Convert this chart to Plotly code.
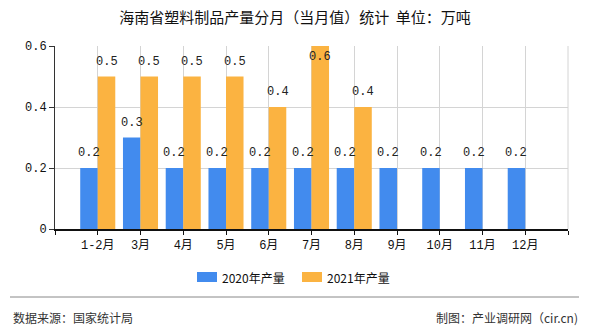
import plotly.graph_objects as go

categories = ["1-2月", "3月", "4月", "5月", "6月", "7月", "8月", "9月", "10月", "11月", "12月"]
values_2020 = [0.2, 0.3, 0.2, 0.2, 0.2, 0.2, 0.2, 0.2, 0.2, 0.2, 0.2]
values_2021 = [0.5, 0.5, 0.5, 0.5, 0.4, 0.6, 0.4, None, None, None, None]
series_names = ["2020年产量", "2021年产量"]
colors = ["#428BEE", "#FBB341"]
title_text = "海南省塑料制品产量分月（当月值）统计  单位：万吨"
source_text = "数据来源：国家统计局"
credit_text = "制图：产业调研网（cir.cn)"

W, H = 590, 330
L, R, T, B = 55, 568, 46, 229
PW, PH = R - L, B - T

def px(x):
    return (x - L) / PW

def py(y):
    return (B - y) / PH

xs = list(range(len(categories)))
mono = "Liberation Mono, Noto Sans CJK SC"
cjk = "Noto Sans CJK SC, Noto Sans, sans-serif"

fig = go.Figure()
for name, vals, col in zip(series_names, [values_2020, values_2021], colors):
    fig.add_trace(go.Bar(x=xs, y=vals, name=name, marker=dict(color=col, line=dict(width=0)),
                         showlegend=False))

annotations = []
bw = 0.41
for k, vals in enumerate([values_2020, values_2021]):
    off = -bw / 2 if k == 0 else bw / 2
    for i, v in enumerate(vals):
        if v is None:
            continue
        if v >= 0.6:
            yshift, anchor = -2, "top"
        else:
            yshift, anchor = 6, "bottom"
        annotations.append(dict(x=i + off, y=v, xref="x", yref="y", text=f"{v:.1f}",
                                showarrow=False, yanchor=anchor, yshift=yshift,
                                font=dict(family=mono, size=12, color="#222")))

# legend (manual)
shapes = []
leg = [(197, 217, 220), (302, 322, 325)]
for (x0, x1, tx), name, col in zip(leg, series_names, colors):
    shapes.append(dict(type="rect", xref="paper", yref="paper", x0=px(x0), x1=px(x1),
                       y0=py(282), y1=py(272), fillcolor=col, line=dict(width=0)))
    annotations.append(dict(x=px(tx), y=py(277), xref="paper", yref="paper", text=name,
                            showarrow=False, xanchor="left", yanchor="middle",
                            font=dict(family=cjk, size=12, color="#111")))

# right border line
shapes.append(dict(type="line", xref="paper", yref="paper", x0=1, x1=1, y0=0, y1=1,
                   line=dict(color="#D4D4D4", width=1)))
# separator
shapes.append(dict(type="line", xref="paper", yref="paper", x0=px(10), x1=px(579),
                   y0=py(297), y1=py(297), line=dict(color="#888", width=1)))
annotations.append(dict(x=px(11), y=py(317), xref="paper", yref="paper", text=source_text,
                        showarrow=False, xanchor="left", yanchor="middle",
                        font=dict(family=cjk, size=12, color="#333")))
annotations.append(dict(x=px(580), y=py(317), xref="paper", yref="paper", text=credit_text,
                        showarrow=False, xanchor="right", yanchor="middle",
                        font=dict(family=cjk, size=12, color="#333")))

fig.update_layout(
    width=W, height=H,
    margin=dict(l=L, r=W - R, t=T, b=H - B, pad=0),
    paper_bgcolor="white", plot_bgcolor="white",
    barmode="group", bargap=0.18, bargroupgap=0,
    title=dict(text=title_text, x=0.5, xref="container", xanchor="center",
               y=1 - 18 / H, yref="container", yanchor="middle",
               font=dict(family=cjk, size=15, color="#111")),
    xaxis=dict(range=[-1, len(categories)], tickmode="array",
               tickvals=[-1] + xs + [len(categories)],
               ticktext=[""] + categories + [""],
               showgrid=True, gridcolor="#D4D4D4", gridwidth=1,
               showline=True, linecolor="#111", linewidth=1.5,
               ticks="outside", ticklen=4, tickcolor="#111",
               tickfont=dict(family=mono, size=12, color="#111"),
               zeroline=False, fixedrange=True),
    yaxis=dict(range=[0, 0.6], tickvals=[0, 0.2, 0.4, 0.6], ticktext=["0", "0.2", "0.4", "0.6"],
               showgrid=True, gridcolor="#D4D4D4", gridwidth=1,
               showline=True, linecolor="#333", linewidth=1,
               ticks="outside", ticklen=5, tickcolor="#333",
               tickfont=dict(family=mono, size=12, color="#111"),
               zeroline=False, fixedrange=True),
    annotations=annotations, shapes=shapes,
    showlegend=False,
)

fig.write_html("out.html")
